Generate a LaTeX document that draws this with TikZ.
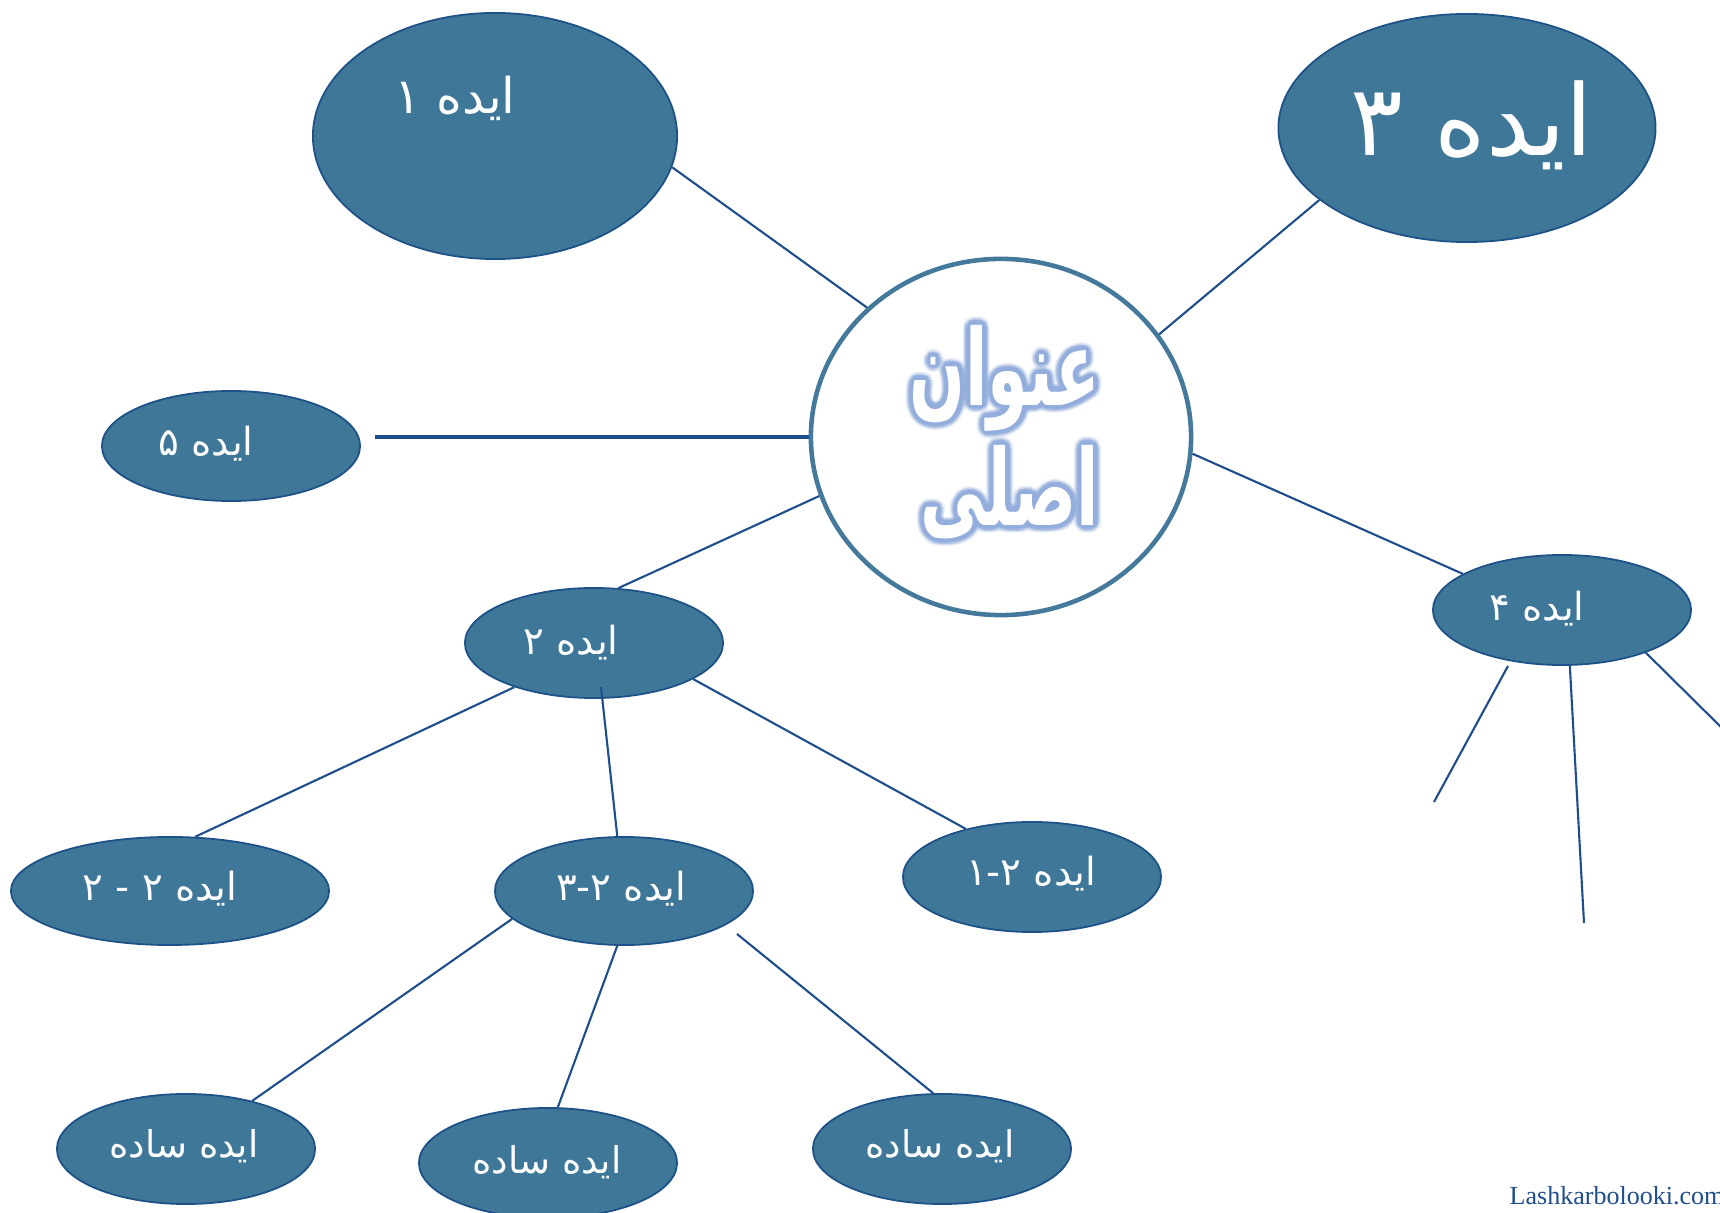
\documentclass[tikz,border=0pt]{standalone}
\usepackage{fontspec}
\usetikzlibrary{shapes.geometric,calc}
\TeXXeTstate=1
\newfontfamily\arabicfont[Script=Arabic]{DejaVu Sans}
\newfontfamily\sitefont{Liberation Serif}
\definecolor{ideafill}{HTML}{3E7798}
\definecolor{ideaedge}{HTML}{1D5187}
\definecolor{linkblue}{HTML}{1F4E8C}
\definecolor{rimblue}{HTML}{44799C}
\definecolor{glowblue}{HTML}{93AEDC}
\definecolor{wmblue}{HTML}{1F4E8C}
\tikzset{
  idea/.style={ellipse, draw=ideaedge, fill=ideafill, line width=0.5pt, inner sep=0pt,
               minimum width=2.58cm, minimum height=1.10cm},
  lbl/.style={text=white, inner sep=0pt, font=\arabicfont\fontsize{11}{13}\selectfont},
  conn/.style={draw=linkblue, line width=0.6pt},
  titletext/.style={inner sep=0pt, xscale=0.62, transform shape,
                    font=\arabicfont\bfseries\fontsize{30}{36}\selectfont}
}
\newcommand{\rtl}[1]{\beginR #1\endR}
\begin{document}
\begin{tikzpicture}[x=0.01cm,y=-0.01cm]
\useasboundingbox (0,0) rectangle (1720,1213);
\fill[white] (0,0) rectangle (1720,1213);

% ideas
\node[idea, minimum width=3.64cm, minimum height=2.46cm] (idea1) at (495,136) {};
\node[idea, minimum width=3.77cm, minimum height=2.28cm] (idea3) at (1467,128) {};
\node[ellipse, draw=rimblue, fill=white, line width=1.3pt, inner sep=0pt,
      minimum width=3.80cm, minimum height=3.56cm] (center) at (1001,437) {};
\node[idea] (idea5) at (231,446) {};
\node[idea] (idea2) at (594,643) {};
\node[idea] (idea4) at (1562,610) {};
\node[idea, minimum width=3.18cm, minimum height=1.08cm] (idea22) at (170,891) {};
\node[idea, minimum height=1.08cm] (idea23) at (624,891) {};
\node[idea] (idea21) at (1032,877) {};
\node[idea] (simple1) at (186,1149) {};
\node[idea] (simple2) at (548,1163) {};
\node[idea] (simple3) at (942,1149) {};

% labels
\node[lbl, font=\arabicfont\fontsize{14}{16}\selectfont] (t1) at (455,98) {\rtl{ایده ۱}};
\node[lbl, font=\arabicfont\fontsize{28}{32}\selectfont] (t3) at (1472,125) {\rtl{ایده ۳}};
\node[lbl] (t5) at (206,444) {\rtl{ایده ۵}};
\node[lbl] (t2) at (571,643) {\rtl{ایده ۲}};
\node[lbl] (t4) at (1537,609) {\rtl{ایده ۴}};
\node[lbl] (t22) at (160,889) {\rtl{ایده ۲ - ۲}};
\node[lbl] (t23) at (621,889) {\rtl{ایده ۳-۲}};
\node[lbl] (t21) at (1031,874) {\rtl{ایده ۱-۲}};
\node[lbl, font=\arabicfont\fontsize{10.5}{13}\selectfont] (ts1) at (184,1146) {\rtl{ایده ساده}};
\node[lbl, font=\arabicfont\fontsize{10.5}{13}\selectfont] (ts2) at (547,1162) {\rtl{ایده ساده}};
\node[lbl, font=\arabicfont\fontsize{10.5}{13}\selectfont] (ts3) at (940,1146) {\rtl{ایده ساده}};

% title with soft blue glow
\coordinate (c1) at (1005,378);
\coordinate (c2) at (1010,492);
\foreach \r/\op in {8/0.10,6.5/0.18,5/0.3,3.5/0.5,2/0.9} {
  \foreach \a [count=\i] in {0,22.5,...,337.5} {
    \node[titletext, text=glowblue, opacity=\op] (ga\i) at ($(c1)+(\a:\r)$) {\rtl{عنوان}};
    \node[titletext, text=glowblue, opacity=\op] (gb\i) at ($(c2)+(\a:\r)$) {\rtl{اصلی}};
  }
}
\node[titletext, text=white] (title1) at (c1) {\rtl{عنوان}};
\node[titletext, text=white] (title2) at (c2) {\rtl{اصلی}};

% connectors
\draw[conn] (idea1.-10) -- (center.136.5);
\draw[conn] (idea3.-154) -- (center.33);
\draw[conn, line width=0.9pt] (center.180) -- ($(center.180 -| idea5.east)+(14,0)$);
\draw[conn] (center.-5) -- (idea4.160);
\draw[conn] (center.-162) -- (idea2.66);
\draw[conn] (idea2.-151) -- (idea22.65);
\draw[conn] ($(idea2.center)+(7,44)$) -- (idea23.97);
\draw[conn] (idea2.-20) -- (idea21.144);
\draw[conn] (idea23.-166) -- (simple1.36);
\draw[conn] (idea23.-97) -- (simple2.80);
\draw[conn] ($(idea23.center)+(113,43)$) -- (simple3.99);
\coordinate (f1) at (1434,802);
\coordinate (f2) at (1584,923);
\coordinate (f3) at (1730,736);
\draw[conn] ($(idea4.center)+(-54,56)$) -- (f1);
\draw[conn] (idea4.-82) -- (f2);
\draw[conn] (idea4.-27) -- (f3);

% site name
\node[anchor=base west, inner sep=0pt, text=wmblue, font=\sitefont\fontsize{7.4}{9}\selectfont] (wm) at (1509,1205) {Lashkarbolooki.com};
\end{tikzpicture}
\end{document}
